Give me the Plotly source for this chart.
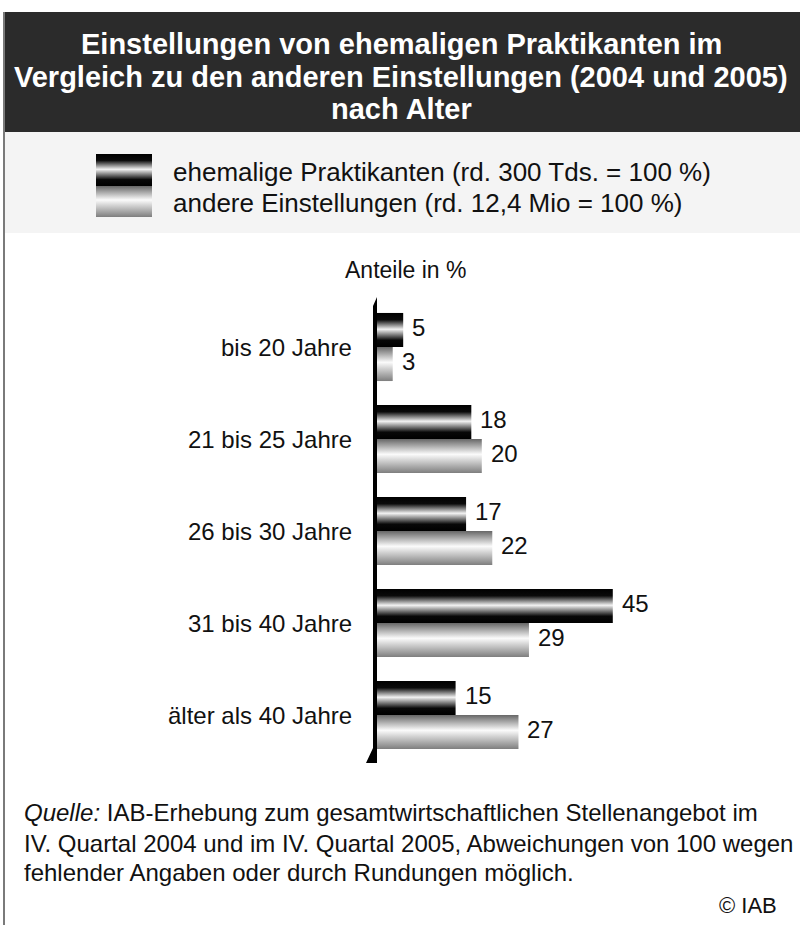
import plotly.graph_objects as go

categories = ["bis 20 Jahre", "21 bis 25 Jahre", "26 bis 30 Jahre", "31 bis 40 Jahre", "älter als 40 Jahre"]
praktikanten = [5, 18, 17, 45, 15]
andere = [3, 20, 22, 29, 27]
series_names = ["ehemalige Praktikanten (rd. 300 Tds. = 100 %)", "andere Einstellungen (rd. 12,4 Mio = 100 %)"]
title_lines = ["Einstellungen von ehemaligen Praktikanten im",
               "Vergleich zu den anderen Einstellungen (2004 und 2005)",
               "nach Alter"]
axis_title = "Anteile in %"
source_lines = ["<i>Quelle:</i> IAB-Erhebung zum gesamtwirtschaftlichen Stellenangebot im",
                "IV. Quartal 2004 und im IV. Quartal 2005, Abweichungen von 100 wegen",
                "fehlender Angaben oder durch Rundungen möglich."]
copyright_text = "© IAB"

W, H = 800, 925
FONT = "Liberation Sans, Arial, sans-serif"
TXT = "#111111"

dark_scale = [[0, "#000000"], [0.2, "#080808"], [0.52, "#f2f2f2"], [0.8, "#0a0a0a"], [1, "#000000"]]
light_scale = [[0, "#7e7e7e"], [0.55, "#fbfbfb"], [1, "#666666"]]

def px(x):
    return x / W

def py(y):
    return 1 - y / H

fig = go.Figure()
BH = 0.37
for i, cat in enumerate(categories):
    for vals, scale, y0, y1 in [(praktikanten, dark_scale, i - BH, i), (andere, light_scale, i, i + BH)]:
        v = vals[i]
        fig.add_trace(go.Scatter(
            x=[0, v, v, 0, 0], y=[y0, y0, y1, y1, y0],
            mode="lines", line=dict(width=0), fill="toself",
            fillgradient=dict(type="vertical", colorscale=scale),
            hoverinfo="skip", showlegend=False, xaxis="x", yaxis="y"))

# value labels and category labels
for i in range(len(categories)):
    fig.add_annotation(x=praktikanten[i], y=i - BH / 2 - 0.03, xref="x", yref="y", text=str(praktikanten[i]),
                       showarrow=False, xanchor="left", yanchor="middle", xshift=7,
                       font=dict(size=24, color=TXT, family=FONT))
    fig.add_annotation(x=andere[i], y=i + BH / 2 - 0.03, xref="x", yref="y", text=str(andere[i]),
                       showarrow=False, xanchor="left", yanchor="middle", xshift=7,
                       font=dict(size=24, color=TXT, family=FONT))
    fig.add_annotation(x=px(354), y=i, xref="paper", yref="y", text=categories[i],
                       showarrow=False, xanchor="right", yanchor="middle",
                       font=dict(size=24, color=TXT, family=FONT))

# legend swatches (pixel coordinate axes covering the whole figure)
for (yy0, yy1), scale in [((154, 186), dark_scale), ((186, 217), light_scale)]:
    fig.add_trace(go.Scatter(
        x=[96, 152, 152, 96, 96], y=[yy0, yy0, yy1, yy1, yy0],
        mode="lines", line=dict(width=0), fill="toself",
        fillgradient=dict(type="vertical", colorscale=scale),
        hoverinfo="skip", showlegend=False, xaxis="x2", yaxis="y2"))

for name, yc in zip(series_names, [172, 203]):
    fig.add_annotation(x=px(171), y=py(yc), xref="paper", yref="paper", text=name, showarrow=False,
                       xanchor="left", yanchor="middle", font=dict(size=26, color=TXT, family=FONT))

# title
for line, yc in zip(title_lines, [44, 77, 109]):
    fig.add_annotation(x=px(401), y=py(yc), xref="paper", yref="paper", text="<b>" + line + "</b>",
                       showarrow=False, xanchor="center", yanchor="middle",
                       font=dict(size=29, color="#ffffff", family=FONT))

fig.add_annotation(x=px(406), y=py(270), xref="paper", yref="paper", text=axis_title, showarrow=False,
                   xanchor="center", yanchor="middle", font=dict(size=23, color=TXT, family=FONT))

for line, yc in zip(source_lines, [812, 843, 872]):
    fig.add_annotation(x=px(22), y=py(yc), xref="paper", yref="paper", text=line, showarrow=False,
                       xanchor="left", yanchor="middle", font=dict(size=24, color=TXT, family=FONT))
fig.add_annotation(x=px(779), y=py(905), xref="paper", yref="paper", text=copyright_text, showarrow=False,
                   xanchor="right", yanchor="middle", font=dict(size=22, color=TXT, family=FONT))

shapes = [
    dict(type="rect", xref="paper", yref="paper", x0=px(5), x1=1, y0=py(12), y1=py(132),
         fillcolor="#2b2b2b", line=dict(width=0), layer="below"),
    dict(type="rect", xref="paper", yref="paper", x0=px(5), x1=1, y0=py(132), y1=py(233),
         fillcolor="#f4f4f4", line=dict(width=0), layer="below"),
    dict(type="line", xref="paper", yref="paper", x0=px(4), x1=px(4), y0=py(12), y1=0,
         line=dict(color="#7a7a7a", width=2)),
    dict(type="path", xref="paper", yref="paper",
         path="M {},{} L {},{} L {},{} L {},{} L {},{} Z".format(
             px(373), py(306), px(377), py(297), px(377), py(763), px(366), py(763), px(373), py(748)),
         fillcolor="#000000", line=dict(width=0)),
]

fig.update_layout(
    width=W, height=H, margin=dict(l=0, r=0, t=0, b=0),
    paper_bgcolor="#ffffff", plot_bgcolor="rgba(0,0,0,0)",
    shapes=shapes, showlegend=False,
    xaxis=dict(domain=[px(360), px(780)], range=[-17 / 5.24, (420 - 17) / 5.24], visible=False, fixedrange=True),
    yaxis=dict(domain=[py(760), py(310)], range=[(760 - 347) / 92, (310 - 347) / 92], visible=False, fixedrange=True),
    xaxis2=dict(domain=[0, 1], range=[0, W], visible=False, anchor="y2", fixedrange=True),
    yaxis2=dict(domain=[0, 1], range=[H, 0], visible=False, anchor="x2", fixedrange=True),
)

fig.write_html("out.html", config={"displayModeBar": False},
               post_script="document.body.style.margin='0px';document.body.style.overflow='hidden';")
